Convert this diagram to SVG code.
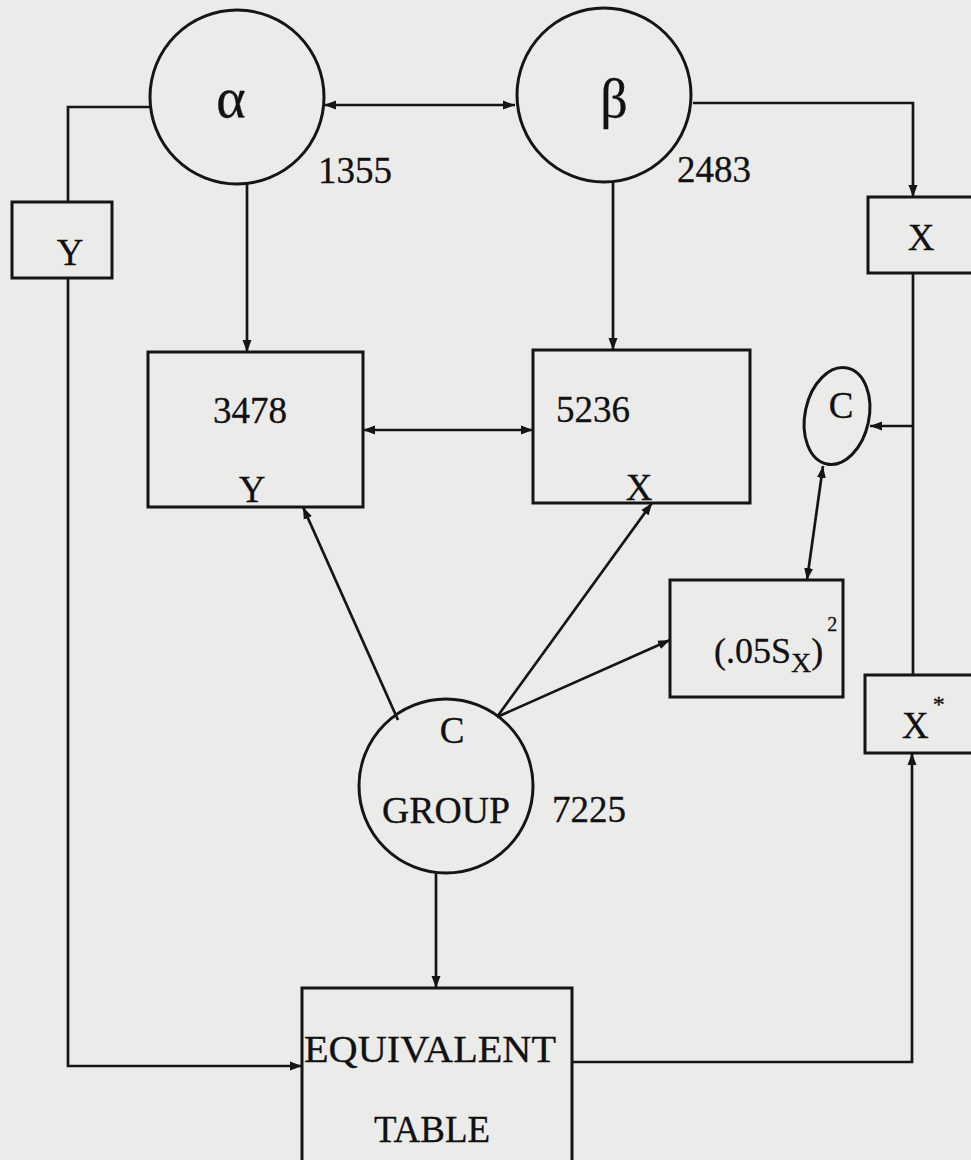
<svg xmlns="http://www.w3.org/2000/svg" width="971" height="1160" viewBox="0 0 971 1160">
<defs>
<marker id="ah" markerUnits="userSpaceOnUse" markerWidth="13" markerHeight="11" refX="12" refY="5.5" orient="auto-start-reverse">
<path d="M0,1 L12,5.5 L0,10 z" fill="#151515"/>
</marker>
<style>
.n{fill:none;stroke:#151515;stroke-width:3}
.c{fill:none;stroke:#151515;stroke-width:2.7}
.a{marker-end:url(#ah)}
.d{marker-start:url(#ah);marker-end:url(#ah)}
text{font-family:"Liberation Serif","Times New Roman",serif;fill:#111;stroke:#111;stroke-width:0.3}
.t{font-size:37px}
</style>
</defs>
<rect width="971" height="1160" fill="#ebebea"/>
<g id="connectors">
<line class="c d" x1="324" y1="105" x2="515" y2="105"/>
<polyline class="c" points="150,107 68,107 68,202"/>
<polyline class="c a" points="68,278 68,1066 302,1066"/>
<polyline class="c a" points="693,103 913,103 913,197"/>
<line class="c a" x1="247" y1="183" x2="247" y2="352"/>
<line class="c a" x1="613" y1="181" x2="613" y2="350"/>
<line class="c d" x1="363" y1="430" x2="533" y2="430"/>
<line class="c" x1="913" y1="273" x2="913" y2="675"/>
<line class="c a" x1="913" y1="426" x2="870" y2="426"/>
<line class="c d" x1="823" y1="466" x2="807" y2="580"/>
<line class="c a" x1="398" y1="720" x2="303" y2="507"/>
<line class="c a" x1="497" y1="717" x2="652" y2="503"/>
<line class="c a" x1="497" y1="717" x2="670" y2="640"/>
<line class="c a" x1="436" y1="873" x2="436" y2="988"/>
<polyline class="c a" points="572,1062 912,1062 912,753"/>
</g>
<g id="alpha">
<circle class="n" cx="237" cy="97" r="87"/>
<text x="231" y="117" font-size="56" text-anchor="middle">α</text>
<text x="318" y="183" class="t">1355</text>
</g>
<g id="beta">
<circle class="n" cx="604" cy="95" r="87"/>
<text x="614" y="117" font-size="54" text-anchor="middle">β</text>
<text x="677" y="182" class="t">2483</text>
</g>
<g id="Y">
<rect class="n" x="12" y="202" width="100" height="76"/>
<text x="70" y="265" class="t" text-anchor="middle">Y</text>
</g>
<g id="X">
<rect class="n" x="868" y="197" width="105" height="76"/>
<text x="921" y="250" class="t" text-anchor="middle">X</text>
</g>
<g id="box3478">
<rect class="n" x="148" y="352" width="215" height="155"/>
<text x="250" y="423" class="t" text-anchor="middle">3478</text>
<text x="252" y="502" class="t" text-anchor="middle">Y</text>
</g>
<g id="box5236">
<rect class="n" x="533" y="350" width="217" height="153"/>
<text x="593" y="422" class="t" text-anchor="middle">5236</text>
<text x="639" y="500" class="t" text-anchor="middle">X</text>
</g>
<g id="C">
<ellipse class="n" cx="837" cy="416" rx="32" ry="49" transform="rotate(12 837 416)"/>
<text x="841" y="418" class="t" text-anchor="middle">C</text>
</g>
<g id="sx">
<rect class="n" x="670" y="580" width="173" height="117"/>
<text x="714" y="663" font-size="36">(.05S<tspan font-size="28" dy="9">X</tspan><tspan dy="-9">)</tspan><tspan font-size="20" dx="4" dy="-32">2</tspan></text>
</g>
<g id="Xstar">
<rect class="n" x="865" y="675" width="108" height="78"/>
<text x="902" y="738" class="t">X<tspan font-size="24" dx="4" dy="-26">*</tspan></text>
</g>
<g id="group">
<circle class="n" cx="446" cy="786" r="87"/>
<text x="452" y="743" class="t" text-anchor="middle">C</text>
<text x="446" y="823" class="t" text-anchor="middle" textLength="128" lengthAdjust="spacingAndGlyphs">GROUP</text>
<text x="552" y="822" class="t">7225</text>
</g>
<g id="equivalent">
<rect class="n" x="302" y="988" width="270" height="190"/>
<text x="304" y="1062" class="t" textLength="252" lengthAdjust="spacingAndGlyphs">EQUIVALENT</text>
<text x="432" y="1142" class="t" text-anchor="middle">TABLE</text>
</g>
</svg>
